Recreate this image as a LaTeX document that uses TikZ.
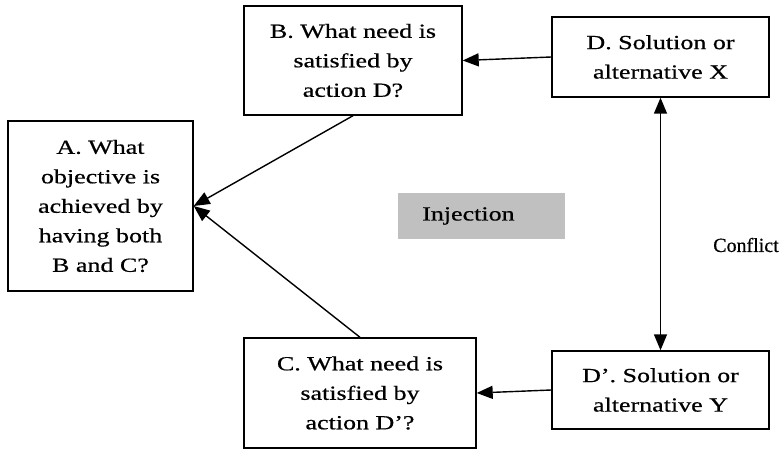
\documentclass[tikz,border=0pt]{standalone}
\usepackage{fontspec}
\setmainfont[FakeStretch=1.3,FakeBold=0.6]{Liberation Serif}
\newfontfamily\plainserif[FakeBold=0.6]{Liberation Serif}
\usetikzlibrary{arrows.meta}
\begin{document}
\begin{tikzpicture}[x=1pt,y=-1pt,
  txt/.style={font=\fontsize{20}{29.5}\selectfont},
  box/.style={draw, line width=1.4pt, inner sep=0pt, align=center, txt},
  tip/.style={Triangle[length=16pt,width=13pt]},
  arr/.style={-{Triangle[length=16pt,width=13pt]}, line width=1.4pt},
  dblarr/.style={{Triangle[length=16pt,width=13pt]}-{Triangle[length=16pt,width=13pt]}, line width=1.4pt}]
\useasboundingbox (0,0) rectangle (784,449);

% question boxes
\node[box, minimum width=185pt, minimum height=170pt] (A) at (100.5,206)
  {A. What\\objective is\\achieved by\\having both\\B and C?};
\node[box, minimum width=218pt, minimum height=109pt] (B) at (353,60.5)
  {B. What need is\\satisfied by\\action D?};
\node[box, minimum width=232pt, minimum height=110pt] (C) at (360,393)
  {C. What need is\\satisfied by\\action D’?};

% alternatives
\node[box, minimum width=217pt, minimum height=80pt] (D) at (660.5,57)
  {D. Solution or\\alternative X};
\node[box, minimum width=217pt, minimum height=78pt] (Dp) at (660.5,390)
  {D’. Solution or\\alternative Y};

% injection placeholder
\node[fill={rgb,255:red,192;green,192;blue,192}, inner sep=0pt,
      minimum width=167pt, minimum height=46pt, txt] (inj) at (481.5,216) {};
\node[txt, anchor=west, inner sep=0pt] (injt) at (422,216) {Injection};

\node[font=\plainserif\fontsize{20}{24}\selectfont, inner sep=0pt] (conf) at (746,245) {Conflict};

% connectors
\draw[arr] (D.west) -- (B.east);
\draw[arr] (Dp.west) -- (C.east);
\draw[arr] (B.south) -- (A.east);
\draw[arr] (C.north) -- (A.east);
\draw[dblarr] (D.south) -- (Dp.north);
\end{tikzpicture}
\end{document}
